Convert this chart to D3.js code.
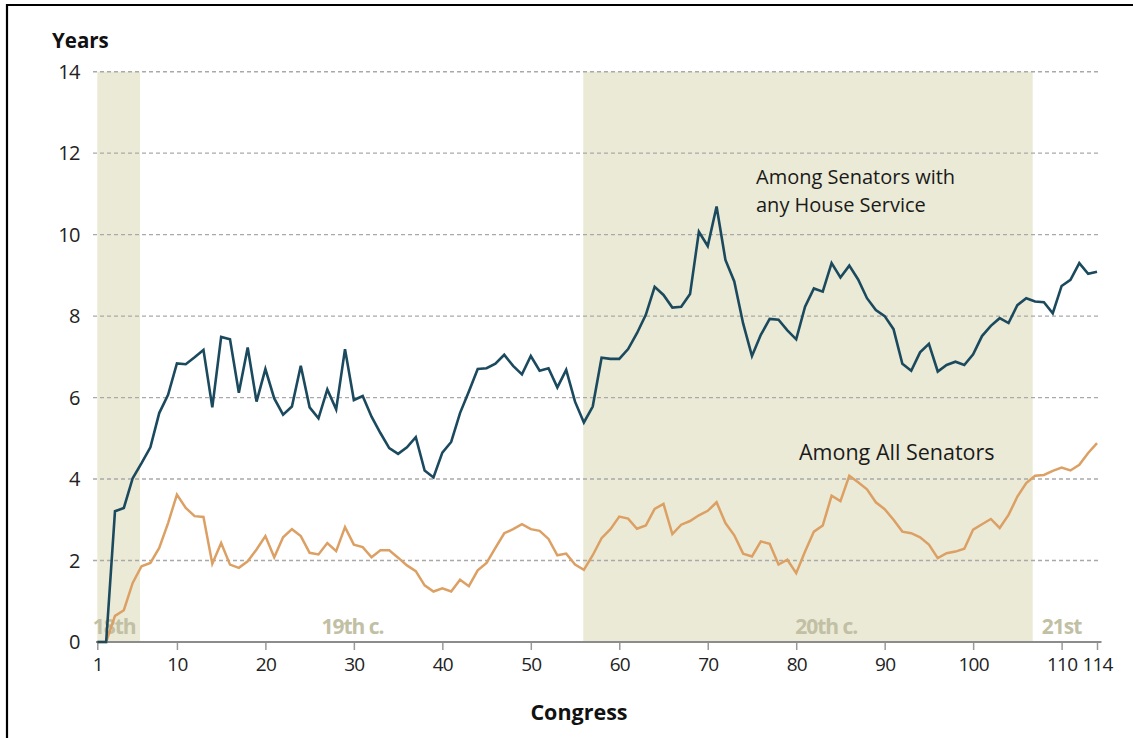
<!DOCTYPE html>
<html>
<head>
<meta charset="utf-8">
<script src="https://cdn.jsdelivr.net/npm/d3@7"></script>
<style>
  body { margin: 0; background: #fff; }
  svg { display: block; font-family: "Open Sans", sans-serif; }
</style>
</head>
<body>
<svg></svg>
<script>
// congress numbers 1..114
var congress = d3.range(1, 115);

// average years of prior House service
var houseService = [
  0, 0, 3.21, 3.29, 4.02, 4.39, 4.78, 5.62, 6.07, 6.84,
  6.82, 6.99, 7.17, 5.76, 7.49, 7.43, 6.12, 7.23, 5.90, 6.70,
  5.98, 5.58, 5.78, 6.78, 5.76, 5.49, 6.20, 5.71, 7.19, 5.94,
  6.04, 5.53, 5.13, 4.76, 4.62, 4.78, 5.03, 4.21, 4.04, 4.65,
  4.91, 5.62, 6.15, 6.70, 6.72, 6.83, 7.05, 6.78, 6.57, 7.02,
  6.66, 6.72, 6.25, 6.68, 5.90, 5.39, 5.78, 6.98, 6.95, 6.95,
  7.19, 7.58, 8.03, 8.72, 8.52, 8.21, 8.23, 8.54, 10.07, 9.72,
  10.69, 9.38, 8.85, 7.82, 7.02, 7.54, 7.93, 7.91, 7.65, 7.43,
  8.23, 8.68, 8.60, 9.30, 8.95, 9.24, 8.90, 8.44, 8.15, 8.00,
  7.68, 6.83, 6.66, 7.11, 7.32, 6.64, 6.80, 6.88, 6.80, 7.06,
  7.51, 7.76, 7.95, 7.83, 8.27, 8.44, 8.36, 8.34, 8.07, 8.74,
  8.89, 9.30, 9.04, 9.09
];

var allSenators = [
  0, 0, 0.64, 0.78, 1.45, 1.86, 1.94, 2.31, 2.92, 3.62,
  3.29, 3.09, 3.07, 1.92, 2.43, 1.90, 1.82, 1.98, 2.27, 2.60,
  2.08, 2.57, 2.77, 2.60, 2.19, 2.15, 2.43, 2.23, 2.82, 2.39,
  2.33, 2.08, 2.25, 2.25, 2.07, 1.88, 1.74, 1.39, 1.24, 1.32,
  1.24, 1.53, 1.37, 1.76, 1.94, 2.31, 2.67, 2.77, 2.89, 2.77,
  2.73, 2.53, 2.13, 2.17, 1.90, 1.77, 2.13, 2.55, 2.77, 3.08,
  3.03, 2.78, 2.86, 3.27, 3.39, 2.65, 2.88, 2.97, 3.11, 3.22,
  3.43, 2.92, 2.62, 2.17, 2.10, 2.47, 2.41, 1.90, 2.02, 1.69,
  2.22, 2.71, 2.86, 3.59, 3.46, 4.08, 3.92, 3.75, 3.43, 3.26,
  3.00, 2.71, 2.67, 2.57, 2.39, 2.06, 2.18, 2.22, 2.29, 2.76,
  2.89, 3.02, 2.80, 3.12, 3.57, 3.90, 4.08, 4.10, 4.20, 4.28,
  4.21, 4.35, 4.64, 4.88
];

var xTicks = [1, 10, 20, 30, 40, 50, 60, 70, 80, 90, 100, 110, 114];
var yTicks = [0, 2, 4, 6, 8, 10, 12, 14];

// shaded centuries, in congress units
var bandStart = [1, 55.93];
var bandEnd = [5.83, 106.73];

var centuryLabels = ["18th", "19th c.", "20th c.", "21st"];
var centuryPos = [2.9, 29.85, 83.4, 110.0];

var noteLines = ["Among Senators with", "any House Service"];

var svg = d3.select("svg")
            .attr("width", 1133)
            .attr("height", 738);

// frame (top and left edge only)
svg.append("line")
   .attr("x1", 6).attr("x2", 1133)
   .attr("y1", 5).attr("y2", 5)
   .attr("stroke", "#000").attr("stroke-width", 2.2);
svg.append("line")
   .attr("x1", 7).attr("x2", 7)
   .attr("y1", 4).attr("y2", 738)
   .attr("stroke", "#000").attr("stroke-width", 2.2);

var xScale = d3.scaleLinear()
               .domain([1, 114])
               .range([97.3, 1097]);

var yScale = d3.scaleLinear()
               .domain([0, 14])
               .range([642, 71.7]);

// century bands
svg.selectAll("rect.band")
   .data(bandStart)
   .enter()
   .append("rect")
   .attr("class", "band")
   .attr("x", function(d) { return xScale(d); })
   .attr("y", yScale(14))
   .attr("width", function(d, i) { return xScale(bandEnd[i]) - xScale(d); })
   .attr("height", yScale(0) - yScale(14))
   .attr("fill", "#ebead6");

// dashed grid
svg.selectAll("line.grid")
   .data(yTicks.slice(1))
   .enter()
   .append("line")
   .attr("class", "grid")
   .attr("x1", 93)
   .attr("x2", 1099)
   .attr("y1", function(d) { return yScale(d); })
   .attr("y2", function(d) { return yScale(d); })
   .attr("stroke", "#a9a9a9")
   .attr("stroke-width", 1.4)
   .attr("stroke-dasharray", "4,3");

// century labels
svg.selectAll("text.century")
   .data(centuryLabels)
   .enter()
   .append("text")
   .attr("class", "century")
   .attr("x", function(d, i) { return xScale(centuryPos[i]); })
   .attr("y", 634)
   .attr("text-anchor", "middle")
   .attr("font-size", 21)
   .attr("font-weight", "bold")
   .attr("letter-spacing", -1)
   .attr("fill", "#c1bfa4")
   .text(function(d) { return d; });

// x axis
var xAxis = d3.axisBottom(xScale)
              .tickValues(xTicks)
              .tickSize(8)
              .tickPadding(8)
              .tickFormat(d3.format("d"));

var gx = svg.append("g")
            .attr("transform", "translate(0," + yScale(0) + ")")
            .call(xAxis);
gx.select(".domain").remove();
gx.selectAll(".tick line").attr("stroke", "#999").attr("stroke-width", 1.5);
gx.selectAll(".tick text")
  .attr("font-family", "Open Sans, sans-serif")
  .attr("font-size", 19)
  .attr("letter-spacing", -0.8)
  .attr("fill", "#222");

svg.append("line")
   .attr("x1", 96).attr("x2", 1101.5)
   .attr("y1", yScale(0)).attr("y2", yScale(0))
   .attr("stroke", "#8c8c8c")
   .attr("stroke-width", 2);

// y labels
svg.selectAll("text.ylab")
   .data(yTicks)
   .enter()
   .append("text")
   .attr("class", "ylab")
   .attr("x", 80)
   .attr("y", function(d) { return yScale(d); })
   .attr("dy", "0.36em")
   .attr("text-anchor", "end")
   .attr("font-size", 20)
   .attr("letter-spacing", -0.5)
   .attr("fill", "#222")
   .text(function(d) { return d; });

// lines
var lineMaker = function(values)
{
  return d3.line()
           .x(function(d, i) { return xScale(congress[i]); })
           .y(function(d) { return yScale(d); })(values);
};

svg.append("path")
   .attr("d", lineMaker(allSenators))
   .attr("fill", "none")
   .attr("stroke", "#dca064")
   .attr("stroke-width", 2.5)
   .attr("stroke-linejoin", "miter");

svg.append("path")
   .attr("d", lineMaker(houseService))
   .attr("fill", "none")
   .attr("stroke", "#1b4a5f")
   .attr("stroke-width", 2.6)
   .attr("stroke-linejoin", "miter");

// titles
svg.append("text")
   .attr("x", 52).attr("y", 48)
   .attr("font-size", 20.5)
   .attr("font-weight", "bold")
   .attr("fill", "#111")
   .text("Years");

svg.append("text")
   .attr("x", 579).attr("y", 720)
   .attr("text-anchor", "middle")
   .attr("font-size", 21.5)
   .attr("font-weight", "bold")
   .attr("fill", "#111")
   .text("Congress");

// series annotations
svg.selectAll("text.note")
   .data(noteLines)
   .enter()
   .append("text")
   .attr("class", "note")
   .attr("x", 756)
   .attr("y", function(d, i) { return 184 + i * 27.5; })
   .attr("font-size", 20)
   .attr("fill", "#1a1a1a")
   .text(function(d) { return d; });

svg.append("text")
   .attr("x", 799).attr("y", 460)
   .attr("font-size", 21.5)
   .attr("fill", "#1a1a1a")
   .text("Among All Senators");
</script>
</body>
</html>
